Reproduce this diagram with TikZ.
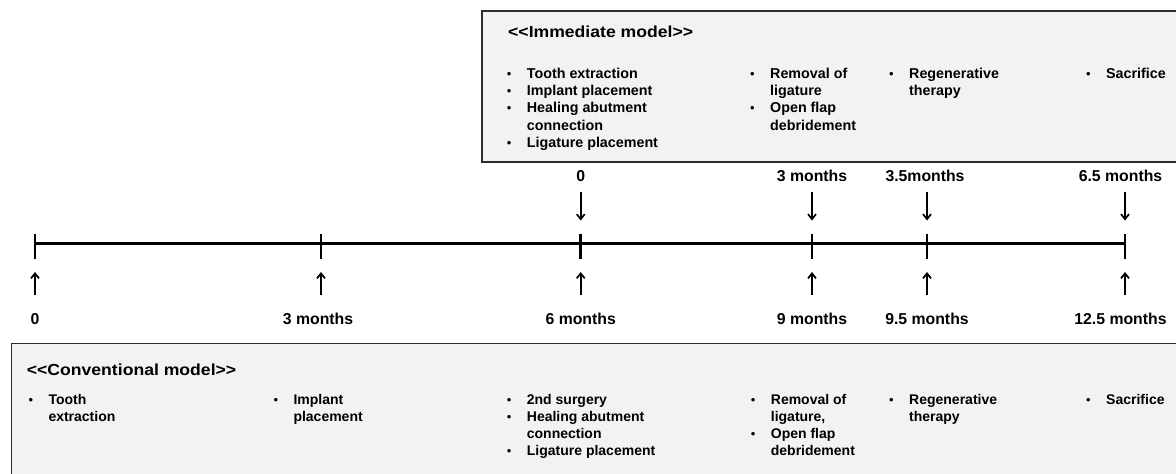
\documentclass[tikz,border=0pt]{standalone}
\usepackage{fontspec}
\setmainfont{Liberation Sans}
\newfontfamily\titlefont[FakeStretch=1.1]{Liberation Sans}
\usetikzlibrary{arrows.meta}
\definecolor{boxfill}{RGB}{242,242,242}
\definecolor{boxline}{RGB}{45,45,45}
\newcommand\blt{\makebox[20pt][l]{\normalfont\fontsize{13}{13}\selectfont •}}
\newcommand\cnt{\hspace*{20pt}}
\tikzset{
  panel/.style={draw=boxline, line width=1.8pt, fill=boxfill},
  ttl/.style={anchor=base west, inner sep=0pt, font=\titlefont\bfseries\fontsize{16}{18}\selectfont},
  itemsA/.style={anchor=base west, inner sep=0pt, font=\bfseries\fontsize{14.3}{17.3}\selectfont},
  itemsB/.style={anchor=base west, inner sep=0pt, font=\bfseries\fontsize{14}{17}\selectfont},
  tlabel/.style={anchor=base, inner sep=0pt, font=\bfseries\fontsize{15.8}{18}\selectfont},
  axis/.style={line width=2.6pt},
  tick/.style={line width=2.6pt},
  evarrow/.style={line width=1.7pt, -{Straight Barb[length=5pt,width=8pt]}}
}
\begin{document}
\begin{tikzpicture}[x=1pt,y=-1pt]
\clip (0,0) rectangle (1176,474);
\fill[white] (0,0) rectangle (1176,474);
% panels
\draw[panel] (481.7,11) rectangle (1190,161.7);
\draw[panel] (11.5,343.5) rectangle (1190,490);
% titles
\node[ttl] (tI) at (508,37.3) {<<Immediate model>>};
\node[ttl] (tC) at (26.7,375) {<<Conventional model>>};
% immediate model items
\node[itemsA] (i1) at (506.7,78.3) {\begin{tabular}[t]{@{}l@{}}
\blt Tooth extraction\\ \blt Implant placement\\ \blt Healing abutment\\ \cnt connection\\ \blt Ligature placement\end{tabular}};
\node[itemsA] (i2) at (750,78.3) {\begin{tabular}[t]{@{}l@{}}
\blt Removal of\\ \cnt ligature\\ \blt Open flap\\ \cnt debridement\end{tabular}};
\node[itemsA] (i3) at (889,78.3) {\begin{tabular}[t]{@{}l@{}}
\blt Regenerative\\ \cnt therapy\end{tabular}};
\node[itemsA] (i4) at (1086,78.3) {\begin{tabular}[t]{@{}l@{}}
\blt Sacrifice\end{tabular}};
% conventional model items
\node[itemsB] (c1) at (28.3,404) {\begin{tabular}[t]{@{}l@{}}
\blt Tooth\\ \cnt extraction\end{tabular}};
\node[itemsB] (c2) at (273.3,404) {\begin{tabular}[t]{@{}l@{}}
\blt Implant\\ \cnt placement\end{tabular}};
\node[itemsB] (c3) at (506.7,404) {\begin{tabular}[t]{@{}l@{}}
\blt 2nd surgery\\ \blt Healing abutment\\ \cnt connection\\ \blt Ligature placement\end{tabular}};
\node[itemsB] (c4) at (750.7,404) {\begin{tabular}[t]{@{}l@{}}
\blt Removal of\\ \cnt ligature,\\ \blt Open flap\\ \cnt debridement\end{tabular}};
\node[itemsB] (c5) at (889,404) {\begin{tabular}[t]{@{}l@{}}
\blt Regenerative\\ \cnt therapy\end{tabular}};
\node[itemsB] (c6) at (1086,404) {\begin{tabular}[t]{@{}l@{}}
\blt Sacrifice\end{tabular}};
% timeline
\coordinate (p0) at (35,243.5);
\coordinate (p1) at (321,243.5);
\coordinate (p2) at (580.7,243.5);
\coordinate (p3) at (812,243.5);
\coordinate (p4) at (927,243.5);
\coordinate (p5) at (1125,243.5);
\draw[axis] (p0) -- (p5);
\foreach \p in {p0,p1,p2,p3,p4,p5}{
  \draw[tick] ([yshift=10pt]\p) -- ([yshift=-15pt]\p);
}
% top labels and arrows
\foreach \p/\n/\t/\dx in {p2/a2/0/0, p3/a3/3 months/0, p4/a4/3.5months/-2, p5/a5/6.5 months/-4.5}{
  \node[tlabel] (top\n) at ([yshift=62.5pt,xshift=\dx pt]\p) {\t};
  \coordinate (ds\n) at ([yshift=52pt]\p);
  \coordinate (de\n) at ([yshift=23pt]\p);
  \draw[evarrow] (ds\n) -- (de\n);
}
% bottom labels and arrows
\foreach \p/\n/\t/\dx in {p0/b0/0/0, p1/b1/3 months/-3, p2/b2/6 months/0, p3/b3/9 months/0, p4/b4/9.5 months/0, p5/b5/12.5 months/-4.5}{
  \node[tlabel] (bot\n) at ([yshift=-81pt,xshift=\dx pt]\p) {\t};
  \coordinate (us\n) at ([yshift=-51.5pt]\p);
  \coordinate (ue\n) at ([yshift=-28.5pt]\p);
  \draw[evarrow] (us\n) -- (ue\n);
}
\end{tikzpicture}
\end{document}
